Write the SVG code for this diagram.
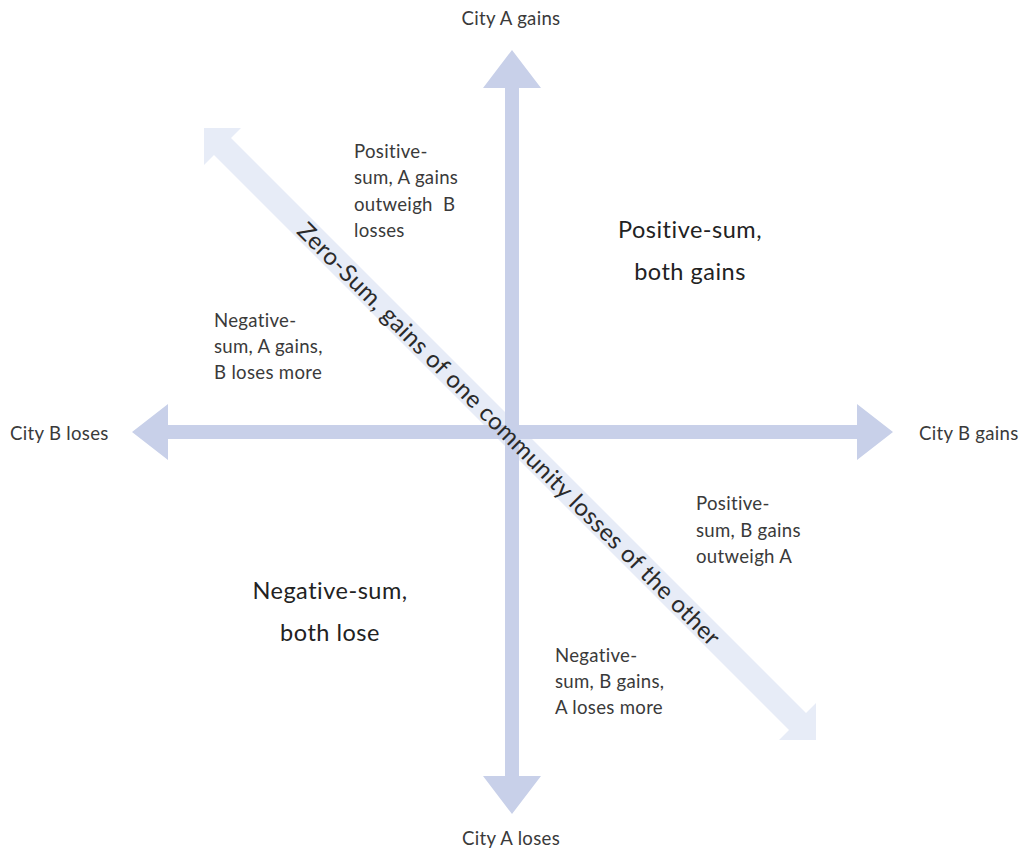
<svg xmlns="http://www.w3.org/2000/svg" width="1020" height="852" viewBox="0 0 1020 852">
<style>
text { font-family: Lato, "Open Sans", "Liberation Sans", sans-serif; fill: #3a3a3a; }
.sm { font-size: 18.6px; letter-spacing: 0.3px; }
.lg { font-size: 23.5px; letter-spacing: 0.5px; fill: #222; }
.ax { fill: #c8d0e9; }
.dg { fill: #e7ecf7; }
.zs { font-size: 24px; letter-spacing: 0.4px; fill: #2a2a2a; }
</style>
<rect width="1020" height="852" fill="#fff"/>
<g id="connectors">
  <polygon id="zero-sum-arrow" class="dg" points="204,128 241,128 231,138 806,713 816,703 816,740 779,740 789,730 214,155 204,165"/>
  <polygon id="vertical-axis" class="ax" points="512,50 541,88 519,88 519,776 541,776 512,814 483,776 505,776 505,88 483,88"/>
  <polygon id="horizontal-axis" class="ax" points="132,432 168,404 168,425 857,425 857,404 893,432 857,460 857,439 168,439 168,460"/>
</g>
<g id="zero-sum-label">
  <text class="zs" transform="translate(509,434) rotate(45)" text-anchor="middle" dy="0.35em">Zero-Sum, gains of one community losses of the other</text>
</g>
<g id="city-a-gains"><text class="sm" x="511" y="25" text-anchor="middle">City A gains</text></g>
<g id="city-a-loses"><text class="sm" x="511" y="845" text-anchor="middle">City A loses</text></g>
<g id="city-b-loses"><text class="sm" x="10" y="440">City B loses</text></g>
<g id="city-b-gains"><text class="sm" x="919" y="440">City B gains</text></g>
<g id="pos-a-outweigh">
  <text class="sm" x="354" y="158">Positive-</text>
  <text class="sm" x="354" y="184">sum, A gains</text>
  <text class="sm" x="354" y="211">outweigh&#160; B</text>
  <text class="sm" x="354" y="237">losses</text>
</g>
<g id="pos-both">
  <text class="lg" x="690" y="238" text-anchor="middle">Positive-sum,</text>
  <text class="lg" x="690" y="280" text-anchor="middle">both gains</text>
</g>
<g id="neg-a-gains">
  <text class="sm" x="214" y="327">Negative-</text>
  <text class="sm" x="214" y="353">sum, A gains,</text>
  <text class="sm" x="214" y="379">B loses more</text>
</g>
<g id="pos-b-outweigh">
  <text class="sm" x="696" y="510">Positive-</text>
  <text class="sm" x="696" y="537">sum, B gains</text>
  <text class="sm" x="696" y="563">outweigh A</text>
</g>
<g id="neg-both">
  <text class="lg" x="330" y="599" text-anchor="middle">Negative-sum,</text>
  <text class="lg" x="330" y="641" text-anchor="middle">both lose</text>
</g>
<g id="neg-b-gains">
  <text class="sm" x="555" y="662">Negative-</text>
  <text class="sm" x="555" y="688">sum, B gains,</text>
  <text class="sm" x="555" y="714">A loses more</text>
</g>
</svg>
